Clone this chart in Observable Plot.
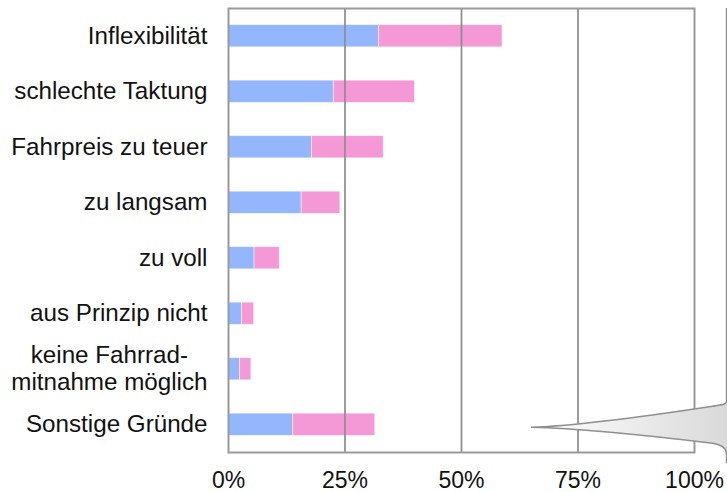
<!DOCTYPE html>
<html>
<head>
<meta charset="utf-8">
<script src="https://cdn.jsdelivr.net/npm/d3@7"></script>
<script src="https://cdn.jsdelivr.net/npm/@observablehq/plot@0.6"></script>
<style>
  html, body { margin: 0; padding: 0; background: #fff; }
  #chart svg { display: block; font-family: "Liberation Sans", Arial, sans-serif; }
</style>
</head>
<body>
<div id="chart"></div>
<script>
const categories = [
  "Inflexibilität",
  "schlechte Taktung",
  "Fahrpreis zu teuer",
  "zu langsam",
  "zu voll",
  "aus Prinzip nicht",
  "keine Fahrrad-\nmitnahme möglich",
  "Sonstige Gründe"
];
const seriesNames = ["Teil 1", "Teil 2"];
const seriesA = [32.3, 22.6, 17.9, 15.7, 5.6, 2.9, 2.5, 13.9];
const seriesB = [26.5, 17.4, 15.4, 8.3, 5.4, 2.6, 2.4, 17.6];
const xTicks = [0, 25, 50, 75, 100];
const gridTicks = [25, 50, 75];
const colors = ["#94b6fc", "#f498d6"];

const rows = [];
seriesA.forEach((v, i) => rows.push({category: categories[i], series: seriesNames[0], value: v}));
seriesB.forEach((v, i) => rows.push({category: categories[i], series: seriesNames[1], value: v}));

// decorative callout wedge pointing at the last category (drawn through the scales)
function callout(index, scales, values, dimensions) {
  const ns = "http://www.w3.org/2000/svg";
  const g = document.createElementNS(ns, "g");
  const xr = scales.x(107);
  const xt = scales.x(65);
  const yc = scales.y(categories[categories.length - 1]) + scales.y.bandwidth() / 2 + 3;
  const top = dimensions.marginTop;
  const defs = document.createElementNS(ns, "defs");
  defs.innerHTML = `<linearGradient id="cg" x1="0" x2="1" y1="0" y2="0">
      <stop offset="0" stop-color="#ffffff"/><stop offset="1" stop-color="#d9d9d9"/></linearGradient>`;
  g.appendChild(defs);
  const upper = `M${xr},${yc-26} C${xr},${yc-23} ${xr-4},${yc-22.5} ${xr-14},${yc-21} C${xr-80},${yc-11} ${xt+40},${yc-1} ${xt},${yc}`;
  const lower = `C${xt+40},${yc+1} ${xr-80},${yc+8} ${xr-14},${yc+16} C${xr-4},${yc+18} ${xr},${yc+21} ${xr},${yc+28}`;
  const fill = document.createElementNS(ns, "path");
  fill.setAttribute("d", `${upper} ${lower} L${xr+2},${yc+28} L${xr+2},${yc-26} Z`);
  fill.setAttribute("fill", "url(#cg)");
  g.appendChild(fill);
  const line = document.createElementNS(ns, "path");
  line.setAttribute("d", `M${xr},${top} V${yc-26} ` + upper.slice(upper.indexOf("C")) + " " + lower + ` V${yc+36}`);
  line.setAttribute("fill", "none");
  line.setAttribute("stroke", "#8f8f8f");
  line.setAttribute("stroke-width", "1.6");
  g.appendChild(line);
  return g;
}

const chart = Plot.plot({
  width: 727,
  height: 492,
  marginLeft: 228,
  marginRight: 33,
  marginTop: 8,
  marginBottom: 40,
  style: {fontFamily: "'Liberation Sans', Arial, sans-serif", color: "#111"},
  x: {domain: [0, 100], label: null},
  y: {domain: categories, paddingInner: 0.6, paddingOuter: 0.3, round: false, label: null},
  color: {domain: seriesNames, range: colors},
  marks: [
    Plot.barX(rows, Plot.stackX({x: "value", y: "category", fill: "series", stroke: "#ffffff", strokeOpacity: 0.6, strokeWidth: 0.8})),
    Plot.ruleX(gridTicks, {stroke: "#8c8c8c", strokeWidth: 1.7}),
    Plot.frame({stroke: "#9a9a9a", strokeWidth: 2}),
    Plot.axisX(xTicks, {tickFormat: d => d + "%", tickSize: 0, tickPadding: 19, fontSize: 23, label: null}),
    Plot.axisY({tickSize: 0, tickPadding: 21, fontSize: 24.2, lineHeight: 1.12, label: null, dy: -1}),
    callout
  ]
});
document.getElementById("chart").appendChild(chart);

// center wrapped y labels (Excel-style)
chart.querySelectorAll("text").forEach(t => {
  const spans = t.querySelectorAll("tspan");
  if (spans.length > 1) {
    const b = t.getBBox();
    t.setAttribute("text-anchor", "middle");
    t.setAttribute("transform", (t.getAttribute("transform") || "") + ` translate(${-b.width / 2},0)`);
  }
});
</script>
</body>
</html>
